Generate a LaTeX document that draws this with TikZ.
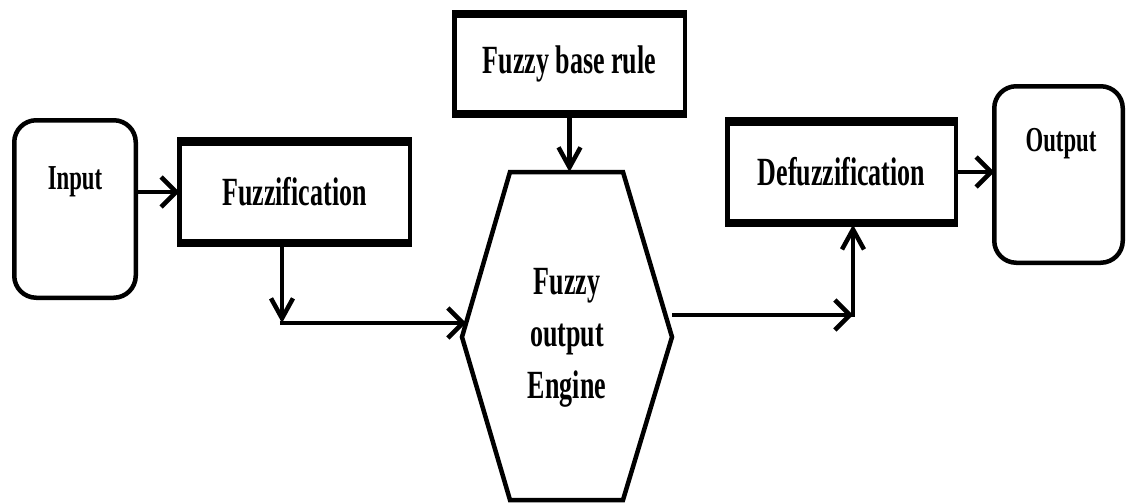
\documentclass[tikz,border=0pt]{standalone}
\usepackage{fontspec}
\setmainfont{Liberation Serif}[FakeStretch=0.65]
\usepackage{tikz}
\usetikzlibrary{arrows.meta}

\newcommand{\blocktext}{\fontsize{40}{52}\selectfont\bfseries}
\newcommand{\termtext}{\fontsize{35}{42}\selectfont\bfseries}

\begin{document}
\begin{tikzpicture}[x=1pt,y=-1pt,
  blockbox/.style={draw,line width=4.5pt,outer sep=0pt,inner sep=0pt,font=\blocktext},
  termbox/.style={draw,line width=4.5pt,outer sep=0pt,rounded corners=22pt},
  bar/.style={line width=8.5pt},
  edge/.style={line width=4.5pt},
  harr/.style={line width=4.5pt,-{Straight Barb[length=15pt,width=30pt]}},
  varr/.style={line width=4.5pt,-{Straight Barb[length=20pt,width=22pt]}}]
\useasboundingbox (0,0) rectangle (1127,503);
\node[termbox,minimum width=121.5pt,minimum height=177.5pt] (in) at (75,209) {};
\node[termbox,minimum width=128.5pt,minimum height=176.5pt] (out) at (1058.5,174.5) {};
\node[blockbox,minimum width=230.5pt,minimum height=105.5pt] (fuzz) at (294.5,192) {Fuzzification};
\node[blockbox,minimum width=230.5pt,minimum height=103.5pt] (rule) at (569.5,64) {Fuzzy base rule};
\node[blockbox,minimum width=228.5pt,minimum height=105.5pt] (defuzz) at (841.5,172) {Defuzzification};
% heavy top and bottom edges
\foreach \b in {fuzz,rule,defuzz}{
  \draw[bar] ([xshift=-2.25pt,yshift=-2pt]\b.north west) -- ([xshift=2.25pt,yshift=-2pt]\b.north east);
  \draw[bar] ([xshift=-2.25pt,yshift=2pt]\b.south west) -- ([xshift=2.25pt,yshift=2pt]\b.south east);
}
% engine
\coordinate (hexnw) at (510,172);
\coordinate (hexne) at (623,172);
\coordinate (hexe) at (672,337);
\coordinate (hexse) at (623,500);
\coordinate (hexsw) at (510,500);
\coordinate (hexw) at (462,337);
\draw[edge] (hexnw) -- (hexne) -- (hexe) -- (hexse) -- (hexsw) -- (hexw) -- cycle;
\node[font=\blocktext,align=center,inner sep=0pt] (engine) at (567,338) {Fuzzy\\output\\Engine};
%Text
\node[font=\termtext,anchor=base,inner sep=0pt] (intext) at (75,189) {Input};
\node[font=\termtext,anchor=base,inner sep=0pt] (outtext) at (1061,151) {Output};
% connectors
\coordinate (fuzzbend) at (282,323);
\coordinate (hexin) at (466,323);
\coordinate (hexout) at (672,315);
\coordinate (defbend) at (853,315);
\draw[harr] (in.east |- fuzz.west) -- (fuzz.west);
\draw[varr] (fuzz.south -| fuzzbend) -- (fuzzbend);
\draw[harr] ([xshift=-2.25pt]fuzzbend) -- (hexin);
\draw[varr] (rule.south) -- (rule.south |- hexnw);
\draw[harr] (hexout) -- (defbend);
\draw[varr] ([yshift=-2.25pt]defbend) -- (defbend |- defuzz.south);
\draw[harr] (defuzz.east) -- (defuzz.east -| out.west);
\end{tikzpicture}
\end{document}
